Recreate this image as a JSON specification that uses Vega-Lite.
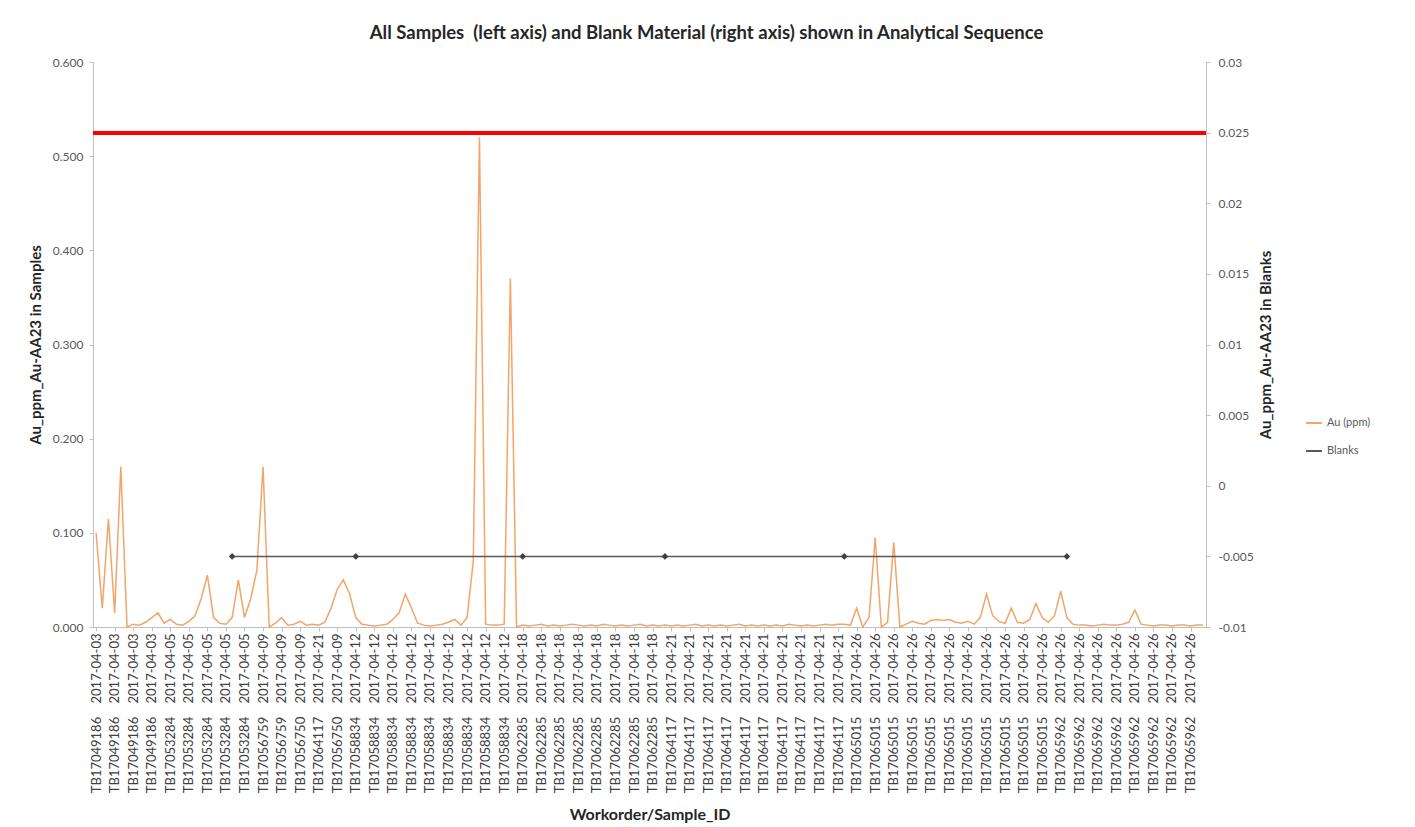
{
  "$schema": "https://vega.github.io/schema/vega-lite/v6.json",
  "width": 1113,
  "height": 565,
  "autosize": {"type": "none"},
  "padding": {"left": 93, "top": 62, "right": 209, "bottom": 200},
  "background": "white",
  "config": {
    "view": {"stroke": null},
    "font": "Lato",
    "axis": {"domainColor": "#bfbfbf", "tickColor": "#bfbfbf", "labelColor": "#595959", "labelFont": "Lato", "titleFont": "Lato", "titleFontWeight": "bold", "titleFontSize": 15, "titleColor": "#262626", "grid": false}
  },
  "title": {"text": "All Samples\u00a0\u00a0(left axis) and Blank Material (right axis) shown in Analytical Sequence", "fontSize": 18.5, "font": "Lato", "fontWeight": "bold", "color": "#262626", "frame": "group", "anchor": "middle", "dx": 57, "offset": 14},
  "data": {"values": [
    {"sample":"000|TB17049186|2017-04-03","au":0.1},
    {"sample":"001|TB17049186|2017-04-03","au":0.02},
    {"sample":"002|TB17049186|2017-04-03","au":0.115},
    {"sample":"003|TB17049186|2017-04-03","au":0.015},
    {"sample":"004|TB17049186|2017-04-03","au":0.17},
    {"sample":"005|TB17049186|2017-04-03","au":0},
    {"sample":"006|TB17049186|2017-04-03","au":0.003},
    {"sample":"007|TB17049186|2017-04-03","au":0.002},
    {"sample":"008|TB17049186|2017-04-03","au":0.005},
    {"sample":"009|TB17049186|2017-04-03","au":0.01},
    {"sample":"010|TB17049186|2017-04-03","au":0.015},
    {"sample":"011|TB17049186|2017-04-03","au":0.004},
    {"sample":"012|TB17053284|2017-04-05","au":0.008},
    {"sample":"013|TB17053284|2017-04-05","au":0.003},
    {"sample":"014|TB17053284|2017-04-05","au":0.002},
    {"sample":"015|TB17053284|2017-04-05","au":0.006},
    {"sample":"016|TB17053284|2017-04-05","au":0.012},
    {"sample":"017|TB17053284|2017-04-05","au":0.03},
    {"sample":"018|TB17053284|2017-04-05","au":0.055},
    {"sample":"019|TB17053284|2017-04-05","au":0.01},
    {"sample":"020|TB17053284|2017-04-05","au":0.004},
    {"sample":"021|TB17053284|2017-04-05","au":0.003},
    {"sample":"022|TB17053284|2017-04-05","au":0.01,"blank":-0.005},
    {"sample":"023|TB17053284|2017-04-05","au":0.05},
    {"sample":"024|TB17053284|2017-04-05","au":0.01},
    {"sample":"025|TB17053284|2017-04-05","au":0.03},
    {"sample":"026|TB17053284|2017-04-05","au":0.06},
    {"sample":"027|TB17056759|2017-04-09","au":0.17},
    {"sample":"028|TB17056759|2017-04-09","au":0},
    {"sample":"029|TB17056759|2017-04-09","au":0.004},
    {"sample":"030|TB17056759|2017-04-09","au":0.01},
    {"sample":"031|TB17056759|2017-04-09","au":0.002},
    {"sample":"032|TB17056759|2017-04-09","au":0.003},
    {"sample":"033|TB17056750|2017-04-09","au":0.006},
    {"sample":"034|TB17056750|2017-04-09","au":0.002},
    {"sample":"035|TB17056750|2017-04-09","au":0.003},
    {"sample":"036|TB17064117|2017-04-21","au":0.002},
    {"sample":"037|TB17064117|2017-04-21","au":0.005},
    {"sample":"038|TB17064117|2017-04-21","au":0.02},
    {"sample":"039|TB17056750|2017-04-09","au":0.04},
    {"sample":"040|TB17056750|2017-04-09","au":0.05},
    {"sample":"041|TB17056750|2017-04-09","au":0.035},
    {"sample":"042|TB17058834|2017-04-12","au":0.01,"blank":-0.005},
    {"sample":"043|TB17058834|2017-04-12","au":0.003},
    {"sample":"044|TB17058834|2017-04-12","au":0.002},
    {"sample":"045|TB17058834|2017-04-12","au":0.001},
    {"sample":"046|TB17058834|2017-04-12","au":0.002},
    {"sample":"047|TB17058834|2017-04-12","au":0.003},
    {"sample":"048|TB17058834|2017-04-12","au":0.008},
    {"sample":"049|TB17058834|2017-04-12","au":0.015},
    {"sample":"050|TB17058834|2017-04-12","au":0.035},
    {"sample":"051|TB17058834|2017-04-12","au":0.02},
    {"sample":"052|TB17058834|2017-04-12","au":0.004},
    {"sample":"053|TB17058834|2017-04-12","au":0.002},
    {"sample":"054|TB17058834|2017-04-12","au":0.001},
    {"sample":"055|TB17058834|2017-04-12","au":0.002},
    {"sample":"056|TB17058834|2017-04-12","au":0.003},
    {"sample":"057|TB17058834|2017-04-12","au":0.005},
    {"sample":"058|TB17058834|2017-04-12","au":0.008},
    {"sample":"059|TB17058834|2017-04-12","au":0.002},
    {"sample":"060|TB17058834|2017-04-12","au":0.01},
    {"sample":"061|TB17058834|2017-04-12","au":0.07},
    {"sample":"062|TB17058834|2017-04-12","au":0.52},
    {"sample":"063|TB17058834|2017-04-12","au":0.003},
    {"sample":"064|TB17058834|2017-04-12","au":0.002},
    {"sample":"065|TB17058834|2017-04-12","au":0.002},
    {"sample":"066|TB17058834|2017-04-12","au":0.003},
    {"sample":"067|TB17058834|2017-04-12","au":0.37},
    {"sample":"068|TB17058834|2017-04-12","au":0},
    {"sample":"069|TB17062285|2017-04-18","au":0.002,"blank":-0.005},
    {"sample":"070|TB17062285|2017-04-18","au":0.001},
    {"sample":"071|TB17062285|2017-04-18","au":0.002},
    {"sample":"072|TB17062285|2017-04-18","au":0.003},
    {"sample":"073|TB17062285|2017-04-18","au":0.001},
    {"sample":"074|TB17062285|2017-04-18","au":0.002},
    {"sample":"075|TB17062285|2017-04-18","au":0.001},
    {"sample":"076|TB17062285|2017-04-18","au":0.002},
    {"sample":"077|TB17062285|2017-04-18","au":0.003},
    {"sample":"078|TB17062285|2017-04-18","au":0.002},
    {"sample":"079|TB17062285|2017-04-18","au":0.001},
    {"sample":"080|TB17062285|2017-04-18","au":0.002},
    {"sample":"081|TB17062285|2017-04-18","au":0.001},
    {"sample":"082|TB17062285|2017-04-18","au":0.003},
    {"sample":"083|TB17062285|2017-04-18","au":0.002},
    {"sample":"084|TB17062285|2017-04-18","au":0.001},
    {"sample":"085|TB17062285|2017-04-18","au":0.002},
    {"sample":"086|TB17062285|2017-04-18","au":0.001},
    {"sample":"087|TB17062285|2017-04-18","au":0.002},
    {"sample":"088|TB17062285|2017-04-18","au":0.003},
    {"sample":"089|TB17062285|2017-04-18","au":0.001},
    {"sample":"090|TB17062285|2017-04-18","au":0.002},
    {"sample":"091|TB17062285|2017-04-18","au":0.001},
    {"sample":"092|TB17062285|2017-04-18","au":0.002,"blank":-0.005},
    {"sample":"093|TB17064117|2017-04-21","au":0.001},
    {"sample":"094|TB17064117|2017-04-21","au":0.002},
    {"sample":"095|TB17064117|2017-04-21","au":0.001},
    {"sample":"096|TB17064117|2017-04-21","au":0.002},
    {"sample":"097|TB17064117|2017-04-21","au":0.003},
    {"sample":"098|TB17064117|2017-04-21","au":0.001},
    {"sample":"099|TB17064117|2017-04-21","au":0.002},
    {"sample":"100|TB17064117|2017-04-21","au":0.001},
    {"sample":"101|TB17064117|2017-04-21","au":0.002},
    {"sample":"102|TB17064117|2017-04-21","au":0.001},
    {"sample":"103|TB17064117|2017-04-21","au":0.002},
    {"sample":"104|TB17064117|2017-04-21","au":0.003},
    {"sample":"105|TB17064117|2017-04-21","au":0.001},
    {"sample":"106|TB17064117|2017-04-21","au":0.002},
    {"sample":"107|TB17064117|2017-04-21","au":0.001},
    {"sample":"108|TB17064117|2017-04-21","au":0.002},
    {"sample":"109|TB17064117|2017-04-21","au":0.001},
    {"sample":"110|TB17064117|2017-04-21","au":0.002},
    {"sample":"111|TB17064117|2017-04-21","au":0.001},
    {"sample":"112|TB17064117|2017-04-21","au":0.003},
    {"sample":"113|TB17064117|2017-04-21","au":0.002},
    {"sample":"114|TB17064117|2017-04-21","au":0.001},
    {"sample":"115|TB17064117|2017-04-21","au":0.002},
    {"sample":"116|TB17064117|2017-04-21","au":0.001},
    {"sample":"117|TB17064117|2017-04-21","au":0.002},
    {"sample":"118|TB17064117|2017-04-21","au":0.003},
    {"sample":"119|TB17064117|2017-04-21","au":0.002},
    {"sample":"120|TB17064117|2017-04-21","au":0.003},
    {"sample":"121|TB17064117|2017-04-21","au":0.003,"blank":-0.005},
    {"sample":"122|TB17064117|2017-04-21","au":0.002},
    {"sample":"123|TB17065015|2017-04-26","au":0.02},
    {"sample":"124|TB17065015|2017-04-26","au":0},
    {"sample":"125|TB17065015|2017-04-26","au":0.01},
    {"sample":"126|TB17065015|2017-04-26","au":0.095},
    {"sample":"127|TB17065015|2017-04-26","au":0},
    {"sample":"128|TB17065015|2017-04-26","au":0.005},
    {"sample":"129|TB17065015|2017-04-26","au":0.09},
    {"sample":"130|TB17065015|2017-04-26","au":0},
    {"sample":"131|TB17065015|2017-04-26","au":0.003},
    {"sample":"132|TB17065015|2017-04-26","au":0.006},
    {"sample":"133|TB17065015|2017-04-26","au":0.004},
    {"sample":"134|TB17065015|2017-04-26","au":0.003},
    {"sample":"135|TB17065015|2017-04-26","au":0.007},
    {"sample":"136|TB17065015|2017-04-26","au":0.008},
    {"sample":"137|TB17065015|2017-04-26","au":0.007},
    {"sample":"138|TB17065015|2017-04-26","au":0.008},
    {"sample":"139|TB17065015|2017-04-26","au":0.005},
    {"sample":"140|TB17065015|2017-04-26","au":0.004},
    {"sample":"141|TB17065015|2017-04-26","au":0.006},
    {"sample":"142|TB17065015|2017-04-26","au":0.003},
    {"sample":"143|TB17065015|2017-04-26","au":0.01},
    {"sample":"144|TB17065015|2017-04-26","au":0.035},
    {"sample":"145|TB17065015|2017-04-26","au":0.012},
    {"sample":"146|TB17065015|2017-04-26","au":0.006},
    {"sample":"147|TB17065015|2017-04-26","au":0.004},
    {"sample":"148|TB17065015|2017-04-26","au":0.02},
    {"sample":"149|TB17065015|2017-04-26","au":0.005},
    {"sample":"150|TB17065015|2017-04-26","au":0.004},
    {"sample":"151|TB17065015|2017-04-26","au":0.008},
    {"sample":"152|TB17065015|2017-04-26","au":0.025},
    {"sample":"153|TB17065015|2017-04-26","au":0.01},
    {"sample":"154|TB17065015|2017-04-26","au":0.005},
    {"sample":"155|TB17065015|2017-04-26","au":0.012},
    {"sample":"156|TB17065962|2017-04-26","au":0.038},
    {"sample":"157|TB17065962|2017-04-26","au":0.01,"blank":-0.005},
    {"sample":"158|TB17065962|2017-04-26","au":0.003},
    {"sample":"159|TB17065962|2017-04-26","au":0.002},
    {"sample":"160|TB17065962|2017-04-26","au":0.002},
    {"sample":"161|TB17065962|2017-04-26","au":0.001},
    {"sample":"162|TB17065962|2017-04-26","au":0.002},
    {"sample":"163|TB17065962|2017-04-26","au":0.003},
    {"sample":"164|TB17065962|2017-04-26","au":0.002},
    {"sample":"165|TB17065962|2017-04-26","au":0.002},
    {"sample":"166|TB17065962|2017-04-26","au":0.003},
    {"sample":"167|TB17065962|2017-04-26","au":0.005},
    {"sample":"168|TB17065962|2017-04-26","au":0.018},
    {"sample":"169|TB17065962|2017-04-26","au":0.003},
    {"sample":"170|TB17065962|2017-04-26","au":0.002},
    {"sample":"171|TB17065962|2017-04-26","au":0.001},
    {"sample":"172|TB17065962|2017-04-26","au":0.002},
    {"sample":"173|TB17065962|2017-04-26","au":0.002},
    {"sample":"174|TB17065962|2017-04-26","au":0.001},
    {"sample":"175|TB17065962|2017-04-26","au":0.002},
    {"sample":"176|TB17065962|2017-04-26","au":0.002},
    {"sample":"177|TB17065962|2017-04-26","au":0.001},
    {"sample":"178|TB17065962|2017-04-26","au":0.002},
    {"sample":"179|TB17065962|2017-04-26","au":0.002}
  ]},
  "layer": [
    {
      "mark": {"type": "line", "strokeWidth": 1.5},
      "encoding": {
        "x": {
          "field": "sample", "type": "ordinal",
          "scale": {"type": "point", "padding": 0.5},
          "axis": {
            "title": "Workorder/Sample_ID",
            "values": ["000|TB17049186|2017-04-03","003|TB17049186|2017-04-03","006|TB17049186|2017-04-03","009|TB17049186|2017-04-03",
              "012|TB17053284|2017-04-05","015|TB17053284|2017-04-05","018|TB17053284|2017-04-05","021|TB17053284|2017-04-05","024|TB17053284|2017-04-05",
              "027|TB17056759|2017-04-09","030|TB17056759|2017-04-09","033|TB17056750|2017-04-09","036|TB17064117|2017-04-21","039|TB17056750|2017-04-09",
              "042|TB17058834|2017-04-12","045|TB17058834|2017-04-12","048|TB17058834|2017-04-12","051|TB17058834|2017-04-12","054|TB17058834|2017-04-12","057|TB17058834|2017-04-12","060|TB17058834|2017-04-12","063|TB17058834|2017-04-12","066|TB17058834|2017-04-12",
              "069|TB17062285|2017-04-18","072|TB17062285|2017-04-18","075|TB17062285|2017-04-18","078|TB17062285|2017-04-18","081|TB17062285|2017-04-18","084|TB17062285|2017-04-18","087|TB17062285|2017-04-18","090|TB17062285|2017-04-18",
              "093|TB17064117|2017-04-21","096|TB17064117|2017-04-21","099|TB17064117|2017-04-21","102|TB17064117|2017-04-21","105|TB17064117|2017-04-21","108|TB17064117|2017-04-21","111|TB17064117|2017-04-21","114|TB17064117|2017-04-21","117|TB17064117|2017-04-21","120|TB17064117|2017-04-21",
              "123|TB17065015|2017-04-26","126|TB17065015|2017-04-26","129|TB17065015|2017-04-26","132|TB17065015|2017-04-26","135|TB17065015|2017-04-26","138|TB17065015|2017-04-26","141|TB17065015|2017-04-26","144|TB17065015|2017-04-26","147|TB17065015|2017-04-26","150|TB17065015|2017-04-26","153|TB17065015|2017-04-26",
              "156|TB17065962|2017-04-26","159|TB17065962|2017-04-26","162|TB17065962|2017-04-26","165|TB17065962|2017-04-26","168|TB17065962|2017-04-26","171|TB17065962|2017-04-26","174|TB17065962|2017-04-26","177|TB17065962|2017-04-26"],
            "labelExpr": "split(datum.value, '|')[1] + '\u00a0\u00a0\u00a0\u00a0' + split(datum.value, '|')[2]",
            "labelAngle": -90,
            "labelFontSize": 13,
            "labelColor": "#404040",
            "labelOverlap": false,
            "tickSize": 4,
            "labelPadding": 2,
            "titlePadding": 14,
            "titleFontSize": 16
          }
        },
        "y": {
          "field": "au", "type": "quantitative",
          "scale": {"domain": [0, 0.6], "nice": false},
          "axis": {"title": "Au_ppm_Au-AA23 in Samples", "values": [0, 0.1, 0.2, 0.3, 0.4, 0.5, 0.6], "format": ".3f", "tickSize": 4, "labelPadding": 6, "labelFontSize": 12, "titlePadding": 9}
        },
        "color": {
          "datum": "Au (ppm)",
          "scale": {"domain": ["Au (ppm)", "Blanks"], "range": ["#F2A56A", "#595959"]},
          "legend": {"orient": "none", "legendX": 1212, "legendY": 352, "title": null, "symbolType": "stroke", "symbolStrokeWidth": 2, "symbolSize": 250, "labelFontSize": 11, "labelColor": "#595959", "labelFont": "Lato", "rowPadding": 14}
        }
      }
    },
    {
      "transform": [{"filter": "isValid(datum.blank)"}],
      "encoding": {
        "x": {"field": "sample", "type": "ordinal"},
        "y": {
          "field": "blank", "type": "quantitative",
          "scale": {"domain": [-0.01, 0.03], "nice": false, "zero": false},
          "axis": {"orient": "right", "title": "Au_ppm_Au-AA23 in Blanks", "values": [-0.01, -0.005, 0, 0.005, 0.01, 0.015, 0.02, 0.025, 0.03], "labelExpr": "replace(format(datum.value, '~f'), '\u2212', '-')", "tickSize": 4, "labelPadding": 8, "labelFontSize": 12, "titleAngle": 270, "titlePadding": 20}
        }
      },
      "layer": [
        {"mark": {"type": "line", "strokeWidth": 1.5}, "encoding": {"color": {"datum": "Blanks"}}},
        {"mark": {"type": "point", "shape": "diamond", "filled": true, "size": 45, "color": "#404040", "opacity": 1}}
      ]
    },
    {
      "mark": {"type": "rule", "color": "#FF0000", "strokeWidth": 3},
      "encoding": {
        "y": {"datum": 0.025, "type": "quantitative", "scale": {"domain": [-0.01, 0.03], "nice": false, "zero": false}, "axis": null}
      }
    }
  ],
  "resolve": {"scale": {"y": "independent"}}
}
